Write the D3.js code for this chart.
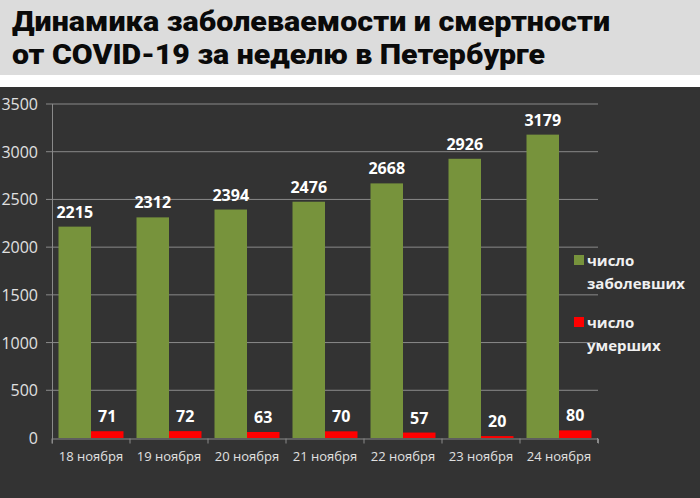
<!DOCTYPE html>
<html><head><meta charset="utf-8">
<script src="https://cdn.jsdelivr.net/npm/d3@7"></script>
<style>body{margin:0;background:#fff}svg{display:block}</style>
</head><body>
<svg id="c" width="700" height="498"></svg>
<script>
const categories = ["18 ноября","19 ноября","20 ноября","21 ноября","22 ноября","23 ноября","24 ноября"];
const sick = [2215,2312,2394,2476,2668,2926,3179];
const dead = [71,72,63,70,57,20,80];
const yTicks = [0,500,1000,1500,2000,2500,3000,3500];
const seriesNames = ["число заболевших","число умерших"];
const titleLines = ["Динамика заболеваемости и смертности","от COVID-19 за неделю в Петербурге"];

const svg = d3.select("#c");
svg.append("rect").attr("x",0).attr("y",0).attr("width",700).attr("height",75).attr("fill","#dcdcdc");
svg.append("rect").attr("x",0).attr("y",87).attr("width",700).attr("height",411).attr("fill","#333333");

const tl = svg.append("g");
const titleTargets = [598, 533];
[31,64].forEach((yy,i)=>{
  tl.append("text").attr("x",12).attr("y",yy).text(titleLines[i])
    .attr("font-family","Roboto, 'Liberation Sans', sans-serif").attr("font-weight",900)
    .attr("font-size",28).attr("fill","#0a0a0a")
    .attr("textLength", titleTargets[i]).attr("lengthAdjust","spacingAndGlyphs");
});

const x0 = d3.scaleBand().domain(categories).range([52,598]).paddingInner(0).paddingOuter(0);
const y = d3.scaleLinear().domain([0,3500]).range([438,104]);
const x1 = d3.scaleBand().domain([0,1]).range([0,x0.bandwidth()]).paddingInner(0).paddingOuter(0.2);

// gridlines
svg.append("g").selectAll("line").data(yTicks.filter(d=>d>0)).join("line")
  .attr("x1",46).attr("x2",598).attr("y1",d=>y(d)).attr("y2",d=>y(d))
  .attr("stroke","#8a8a8a").attr("stroke-width",1);

// y axis labels
svg.append("g").selectAll("text").data(yTicks).join("text")
  .attr("x",38).attr("y",d=>y(d)+6).attr("text-anchor","end")
  .attr("font-family","'Open Sans','DejaVu Sans',sans-serif").attr("font-size",16)
  .attr("fill","#e0e0e0").text(d=>d);

// axes lines
svg.append("line").attr("x1",52.5).attr("x2",52.5).attr("y1",104).attr("y2",443).attr("stroke","#8a8a8a");
const xa = d3.axisBottom(x0).tickSize(5).tickSizeOuter(5).tickFormat("");
svg.append("g").attr("transform","translate(0,438.5)").call(xa)
  .call(g=>{g.selectAll("path,line").attr("stroke","#8a8a8a");g.selectAll(".tick line").attr("transform",`translate(${-x0.bandwidth()/2},0)`);});
svg.append("line").attr("x1",597.5).attr("x2",597.5).attr("y1",438).attr("y2",443).attr("stroke","#8a8a8a");

// category labels
svg.append("g").selectAll("text").data(categories).join("text")
  .attr("x",d=>x0(d)+x0.bandwidth()/2).attr("y",461).attr("text-anchor","middle")
  .attr("font-family","'Open Sans','DejaVu Sans',sans-serif").attr("font-size",13)
  .attr("fill","#e0e0e0").text(d=>d);

const colors = ["#77933c","#ff0000"];
const data = [sick, dead];
data.forEach((arr,s)=>{
  const g = svg.append("g");
  g.selectAll("rect").data(arr).join("rect")
    .attr("x",(d,i)=>x0(categories[i])+x1(s)).attr("width",x1.bandwidth())
    .attr("y",d=>y(d)).attr("height",d=>y(0)-y(d)).attr("fill",colors[s]);
  g.selectAll("text").data(arr).join("text")
    .attr("x",(d,i)=>x0(categories[i])+x1(s)+x1.bandwidth()/2).attr("y",d=>y(d)-9)
    .attr("text-anchor","middle").attr("font-family","'Open Sans','DejaVu Sans',sans-serif")
    .attr("font-weight",700).attr("font-size",16).attr("fill","#ffffff").text(d=>d);
});

// legend
const leg = svg.append("g");
const legY = [266,328];
seriesNames.forEach((n,i)=>{
  const parts = n.split(" ");
  leg.append("rect").attr("x",574).attr("y",legY[i]-11).attr("width",10).attr("height",10).attr("fill",colors[i]);
  leg.append("text").attr("x",587).attr("y",legY[i]).text(parts[0])
    .attr("font-family","'Open Sans','DejaVu Sans',sans-serif").attr("font-weight",700).attr("font-size",15).attr("fill","#f0f0f0");
  leg.append("text").attr("x",587).attr("y",legY[i]+23).text(parts[1])
    .attr("font-family","'Open Sans','DejaVu Sans',sans-serif").attr("font-weight",700).attr("font-size",15).attr("fill","#f0f0f0");
});
</script>
</body></html>
